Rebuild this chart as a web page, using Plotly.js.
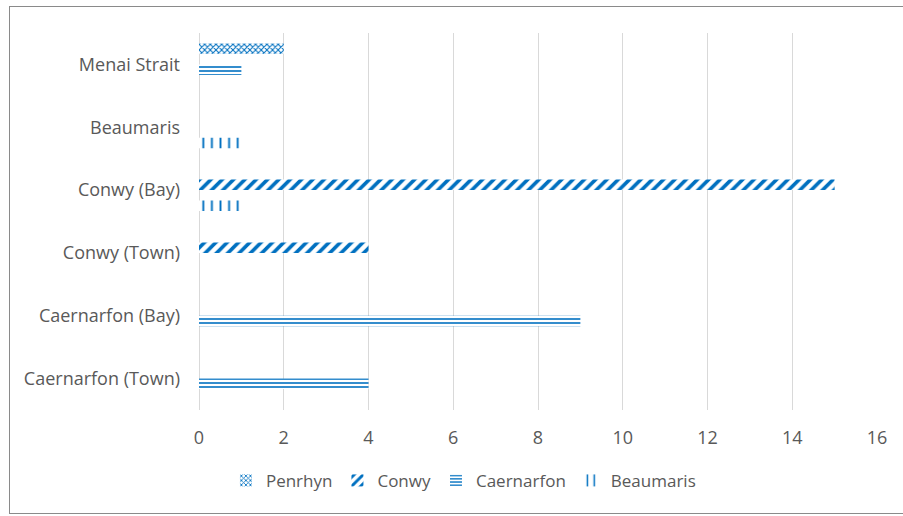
<!DOCTYPE html>
<html>
<head>
<meta charset="utf-8">
<script src="https://cdn.plot.ly/plotly-3.0.1.min.js"></script>
<style>
  html, body { margin: 0; padding: 0; background: #fff; overflow: hidden; }
  #wrap { position: relative; width: 903px; height: 516px; }
  #chart { position: absolute; left: 0; top: 0; width: 903px; height: 516px; }
  #frame { position: absolute; left: 9px; top: 6px; width: 910px; height: 508px;
           border: 1.5px solid #8a8a8a; pointer-events: none; box-sizing: border-box; }
</style>
</head>
<body>
<div id="wrap">
  <div id="chart"></div>
  <div id="frame"></div>
</div>
<script>
// Categories listed bottom-to-top
const categories = ['Caernarfon (Town)', 'Caernarfon (Bay)', 'Conwy (Town)', 'Conwy (Bay)', 'Beaumaris', 'Menai Strait'];
const penrhyn    = [0, 0, 0, 0, 0, 2];
const conwy      = [0, 0, 4, 15, 0, 0];
const caernarfon = [4, 9, 0, 0, 0, 1];
const beaumaris  = [0, 0, 0, 1, 1, 0];
const xTicks     = [0, 2, 4, 6, 8, 10, 12, 14, 16];

const blue = '#0070C0';
function mk(name, vals, shape, size, solidity) {
  return {
    type: 'bar', orientation: 'h', name: name,
    y: categories, x: vals,
    marker: {
      color: '#ffffff',
      line: { width: 0 },
      pattern: { shape: shape, size: size, solidity: solidity, fgcolor: blue, bgcolor: '#ffffff', fillmode: 'replace' }
    },
    hoverinfo: 'x+y+name'
  };
}

// Added bottom-to-top within each group; legend reversed
const data = [
  mk('Beaumaris', beaumaris, '|', 8.6, 0.22),
  mk('Caernarfon', caernarfon, '-', 4, 0.4),
  mk('Conwy', conwy, '/', 8, 0.45),
  mk('Penrhyn', penrhyn, 'x', 4, 0.45)
];

const font = { family: '"Open Sans", Lato, sans-serif', size: 18, color: '#595959' };
const legFont = { family: '"Open Sans", Lato, sans-serif', size: 17, color: '#595959' };

const layout = {
  width: 903, height: 516,
  margin: { l: 199, r: 26, t: 33, b: 106 },
  paper_bgcolor: 'rgba(0,0,0,0)', plot_bgcolor: '#ffffff',
  font: font,
  barmode: 'group', bargap: 0.333, bargroupgap: 0,
  showlegend: true,
  legend: {
    orientation: 'h', traceorder: 'reversed',
    x: 0.39, xanchor: 'center', y: -0.188, yanchor: 'middle',
    font: legFont, itemwidth: 30
  },
  xaxis: {
    range: [0, 16], tickvals: xTicks, ticktext: xTicks.map(String),
    showgrid: true, gridcolor: '#d9d9d9', gridwidth: 1,
    zeroline: true, zerolinecolor: '#d9d9d9', zerolinewidth: 1,
    showline: false, ticks: '', ticklabelstandoff: 15,
    tickfont: font, fixedrange: true
  },
  yaxis: {
    type: 'category', categoryorder: 'array', categoryarray: categories,
    showgrid: false, zeroline: false, showline: false,
    ticks: '', ticklabelstandoff: 18, tickfont: font, fixedrange: true
  }
};

Plotly.newPlot('chart', data, layout, { displayModeBar: false, staticPlot: true });
</script>
</body>
</html>
